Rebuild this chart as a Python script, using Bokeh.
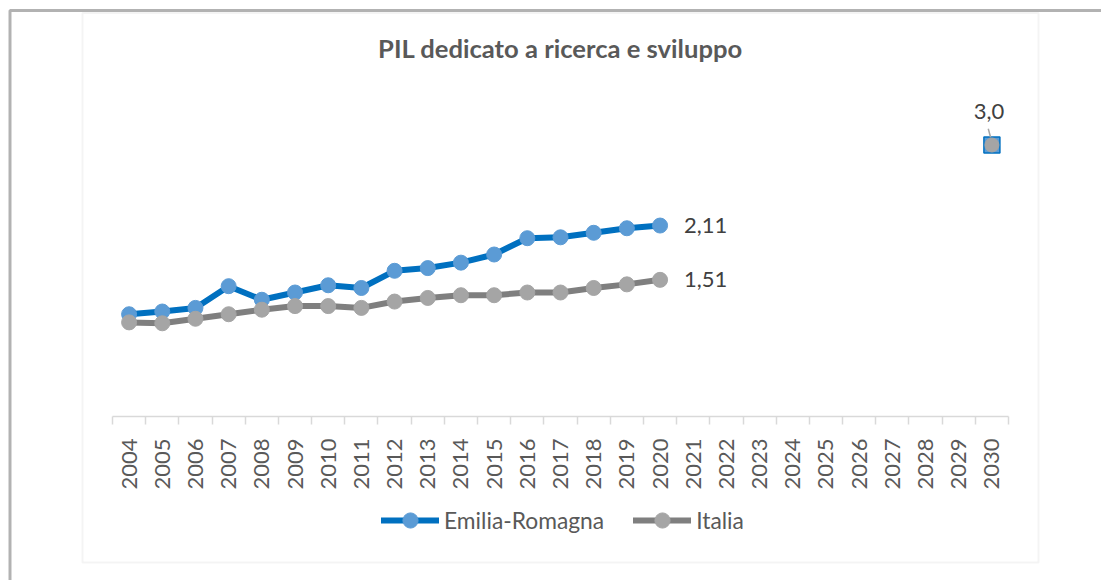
from bokeh.plotting import figure
from bokeh.models import (FixedTicker, Range1d, Legend, LegendItem, ColumnDataSource,
                          BoxAnnotation)
from bokeh.core.properties import value
from bokeh.embed import file_html
from bokeh.resources import INLINE
import math

# ---------------- data ----------------
years = list(range(2004, 2031))
year_labels = [str(y) for y in years]

er_years = list(range(2004, 2021))
er_values = [1.13, 1.16, 1.20, 1.44, 1.29, 1.37, 1.45, 1.42, 1.61, 1.64,
             1.70, 1.79, 1.97, 1.98, 2.03, 2.08, 2.11]
it_years = list(range(2004, 2021))
it_values = [1.04, 1.03, 1.08, 1.13, 1.18, 1.22, 1.22, 1.20, 1.27, 1.31,
             1.34, 1.34, 1.37, 1.37, 1.42, 1.46, 1.51]

target_years = [2030]
er_target = [3.0]
it_target = [3.0]

title_text = "PIL dedicato a ricerca e sviluppo"
series_names = ["Emilia-Romagna", "Italia"]

# ---------------- style / layout (pixels) ----------------
FONT = "Lato"
BLUE_LINE = "#0070C0"
BLUE_MARK = "#5B9BD5"
GRAY_LINE = "#7F7F7F"
GRAY_MARK = "#A5A5A5"
TEXT = "#595959"
LABEL = "#404040"

W, H = 1101, 580
AX_LEFT, AX_RIGHT = 112, 1008     # pixel extent of the category axis
AX_Y = 416                        # pixel row of the value 0
PX_PER_UNIT = 90.5                # vertical scale

x0 = years[0] - 0.5
x1 = years[-1] + 0.5
px_per_year = (AX_RIGHT - AX_LEFT) / (x1 - x0)
xr = Range1d(x0 - AX_LEFT / px_per_year, x1 + (W - AX_RIGHT) / px_per_year)
yr = Range1d(-(H - AX_Y) / PX_PER_UNIT, AX_Y / PX_PER_UNIT)

def px_x(px):
    return xr.start + px / px_per_year

def px_y(py):
    return (AX_Y - py) / PX_PER_UNIT

p = figure(width=W, height=H, output_backend="svg", toolbar_location=None,
           x_range=xr, y_range=yr, y_axis_location=None, min_border=0)
p.outline_line_color = None
p.xgrid.visible = False
p.ygrid.visible = False
p.background_fill_color = "white"
p.border_fill_color = "white"
p.title.visible = False

boundaries = [y - 0.5 for y in years] + [years[-1] + 0.5]
ax = p.xaxis[0]
ax.fixed_location = 0
ax.bounds = (x0, x1)
ax.ticker = FixedTicker(ticks=years, minor_ticks=boundaries)
ax.major_label_overrides = {y: s for y, s in zip(years, year_labels)}
ax.major_label_orientation = math.pi / 2
ax.major_tick_line_color = None
ax.major_tick_out = 0
ax.major_tick_in = 0
ax.minor_tick_line_color = "#D9D9D9"
ax.minor_tick_line_width = 1.5
ax.minor_tick_out = 8
ax.minor_tick_in = 0
ax.axis_line_color = "#D9D9D9"
ax.axis_line_width = 1.5
ax.major_label_standoff = 14
ax.major_label_text_font = FONT
ax.major_label_text_font_size = "22px"
ax.major_label_text_color = TEXT

# chart-area box (gray) and outer frame (black)
p.add_layout(BoxAnnotation(left=82, right=1038, top=12.5, bottom=562,
                           left_units="canvas", right_units="canvas",
                           top_units="canvas", bottom_units="canvas",
                           fill_color=None, fill_alpha=0,
                           line_color="#D9D9D9", line_width=2, level="underlay"))
p.add_layout(BoxAnnotation(left=9.5, right=1300, top=10, bottom=800,
                           left_units="canvas", right_units="canvas",
                           top_units="canvas", bottom_units="canvas",
                           fill_color=None, fill_alpha=0,
                           line_color="black", line_width=3, level="underlay"))

# title
p.text([px_x(560)], [px_y(47)], text=[title_text], text_align="center",
       text_baseline="middle", text_font=value(FONT), text_font_size="25.6px",
       text_font_style="bold", text_color=TEXT)

# series
er_src = ColumnDataSource(dict(x=er_years, y=er_values))
it_src = ColumnDataSource(dict(x=it_years, y=it_values))

er_line = p.line("x", "y", source=er_src, line_color=BLUE_LINE, line_width=6,
                 line_join="round", line_cap="round")
it_line = p.line("x", "y", source=it_src, line_color=GRAY_LINE, line_width=6,
                 line_join="round", line_cap="round")
er_pts = p.scatter("x", "y", source=er_src, marker="circle", size=15,
                   fill_color=BLUE_MARK, line_color=BLUE_MARK)
it_pts = p.scatter("x", "y", source=it_src, marker="circle", size=15,
                   fill_color=GRAY_MARK, line_color=GRAY_MARK)

# targets
p.scatter(target_years, er_target, marker="square", size=16,
          fill_color=BLUE_MARK, line_color=BLUE_LINE, line_width=1.5)
p.scatter(target_years, it_target, marker="circle", size=14,
          fill_color=GRAY_MARK, line_color=GRAY_MARK)

def fmt(v, d):
    return f"{v:.{d}f}".replace(".", ",")

p.text([er_years[-1]], [er_values[-1]], text=[fmt(er_values[-1], 2)],
       x_offset=24, text_align="left", text_baseline="middle",
       text_font=value(FONT), text_font_size="22px", text_color=LABEL)
p.text([it_years[-1]], [it_values[-1]], text=[fmt(it_values[-1], 2)],
       x_offset=24, text_align="left", text_baseline="middle",
       text_font=value(FONT), text_font_size="22px", text_color=LABEL)
p.text(target_years, it_target, text=[fmt(it_target[0], 1)],
       x_offset=-3, y_offset=-34, text_align="center", text_baseline="middle",
       text_font=value(FONT), text_font_size="22px", text_color=LABEL)
p.segment(x0=[t - 0.11 for t in target_years], y0=[v + 0.18 for v in it_target],
          x1=[t - 0.04 for t in target_years], y1=[v + 0.085 for v in it_target],
          line_color="#A6A6A6", line_width=1.5)

legend = Legend(items=[LegendItem(label=series_names[0], renderers=[er_line, er_pts]),
                       LegendItem(label=series_names[1], renderers=[it_line, it_pts])],
                orientation="horizontal", location=(381, 41),
                glyph_width=58, glyph_height=38, label_standoff=5, spacing=29,
                label_text_font=FONT, label_text_font_size="22.8px",
                label_text_color=TEXT, border_line_color=None,
                background_fill_alpha=0, margin=0, padding=10)
p.add_layout(legend, "center")

open("out.html", "w").write(file_html(p, INLINE))
